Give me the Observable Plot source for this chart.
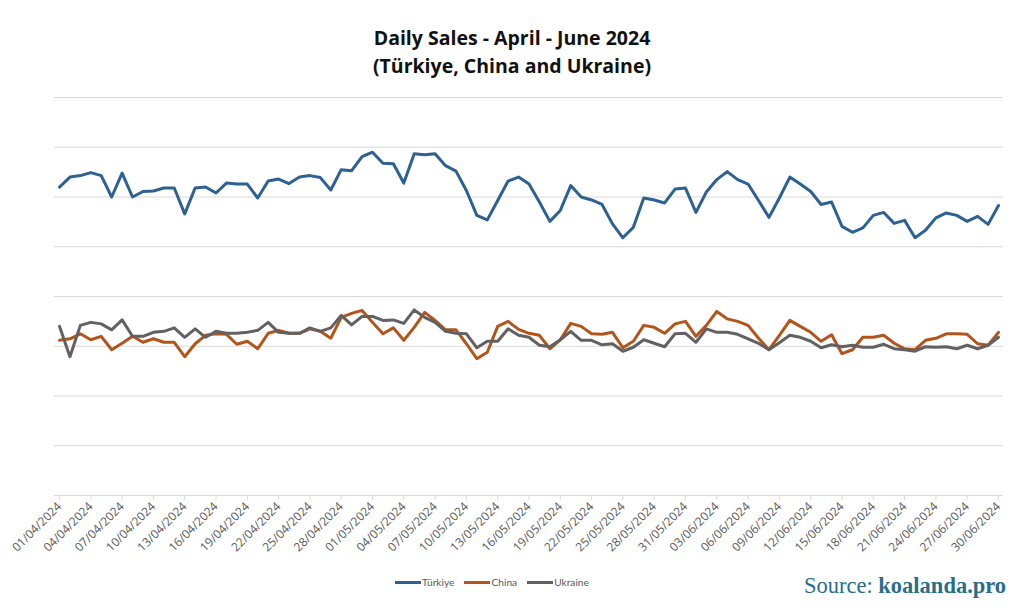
<!DOCTYPE html>
<html>
<head>
<meta charset="utf-8">
<script src="https://cdn.jsdelivr.net/npm/d3@7"></script>
<script src="https://cdn.jsdelivr.net/npm/@observablehq/plot@0.6"></script>
<style>
  body { margin: 0; background: #fff; }
  #wrap { position: relative; width: 1024px; height: 614px; overflow: hidden; font-family: "Open Sans", sans-serif; }
  #title { position: absolute; top: 24px; left: 0; width: 1024px; text-align: center; font-weight: 700; font-size: 19.5px; line-height: 28px; color: #111; z-index: 2; }
  #chart { position: absolute; top: 0; left: 0; }
  #legend { position: absolute; top: 576px; left: 395px; display: flex; gap: 10px; font-family: Lato, sans-serif; font-size: 10.2px; color: #595959; align-items: center; z-index: 2; }
  #legend .item { display: flex; align-items: center; }
  #legend .sw { display: inline-block; width: 26px; height: 3px; margin-right: 1px; }
  #source { position: absolute; top: 573px; left: 804px; font-family: "Liberation Serif", serif; font-size: 22.5px; color: #2a6d8b; z-index: 2; }
  #source b { font-weight: 700; }
</style>
</head>
<body>
<div id="wrap">
  <div id="title">Daily Sales - April - June 2024<br>(Türkiye, China and Ukraine)</div>
  <div id="chart"></div>
  <div id="legend"></div>
  <div id="source">Source: <b>koalanda.pro</b></div>
</div>
<script>
const seriesNames = ["Türkiye", "China", "Ukraine"];
const seriesColors = ["#2d6193", "#b3541b", "#616161"];

const turkiye = [620,640,643,649,643,600,648,600,611,612,618,618,566,618,620,608,628,626,626,598,
  632,636,627,640,643,639,614,655,653,681,690,668,667,628,687,685,687,663,652,613,
  563,554,593,632,640,626,590,551,573,623,600,594,585,546,518,539,598,594,588,616,
  618,569,610,635,651,635,626,593,559,598,640,626,611,585,590,541,529,538,563,569,
  547,553,518,533,558,568,563,551,561,545,583];
const china = [312,315,325,313,320,293,306,320,308,315,308,308,279,305,322,325,324,304,310,295,
  326,332,326,326,335,330,316,358,366,372,348,325,337,312,338,368,352,333,333,305,
  275,288,340,350,334,326,322,295,313,346,340,325,324,328,297,310,342,338,326,345,
  350,320,342,370,355,350,342,316,293,322,352,340,328,310,323,285,293,318,318,322,
  306,295,293,312,316,325,325,324,305,302,328];
const ukraine = [340,279,342,348,345,333,353,320,320,328,330,337,318,335,318,330,326,326,328,332,
  348,328,326,326,337,330,337,362,343,360,360,352,353,346,373,358,348,330,326,325,
  297,310,310,335,322,318,302,299,313,330,312,312,303,305,290,298,313,306,299,325,
  326,308,335,328,328,324,315,306,293,307,322,318,310,297,303,299,302,298,298,304,
  295,293,290,299,298,299,295,302,295,302,318];

const dates = d3.utcDay.range(new Date(Date.UTC(2024, 3, 1)), new Date(Date.UTC(2024, 6, 1)));
const tickDates = dates.filter((d, i) => i % 3 === 0);
const gridValues = [100, 200, 300, 400, 500, 600, 700, 800];

const rows = [];
[turkiye, china, ukraine].forEach((vals, s) => {
  vals.forEach((v, i) => rows.push({series: seriesNames[s], date: dates[i], value: v}));
});

const chart = Plot.plot({
  width: 1024,
  height: 614,
  marginTop: 97,
  marginBottom: 119,
  marginLeft: 54,
  marginRight: 21,
  style: {fontFamily: "'Open Sans', sans-serif", background: "transparent"},
  x: {type: "utc", domain: [dates[0], dates[dates.length - 1]], range: [59, 998]},
  y: {domain: [0, 800], axis: null},
  color: {domain: seriesNames, range: seriesColors},
  marks: [
    Plot.ruleY(gridValues, {stroke: "#d9d9d9", strokeWidth: 1}),
    Plot.ruleY([0], {stroke: "#d9d9d9", strokeWidth: 1}),
    Plot.axisX({
      ticks: tickDates,
      tickFormat: d3.utcFormat("%d/%m/%Y"),
      tickRotate: -45,
      tickSize: 5,
      tickPadding: 4,
      stroke: "#d9d9d9",
      color: "#595959",
      fontSize: 12,
      label: null
    }),
    Plot.line(rows, {x: "date", y: "value", z: "series", stroke: "series", strokeWidth: 3, strokeLinejoin: "round", strokeLinecap: "round"})
  ]
});
document.getElementById("chart").appendChild(chart);

const legend = document.getElementById("legend");
seriesNames.forEach((n, i) => {
  const it = document.createElement("div");
  it.className = "item";
  it.innerHTML = `<span class="sw" style="background:${seriesColors[i]}"></span><span>${n}</span>`;
  legend.appendChild(it);
});
</script>
</body>
</html>
